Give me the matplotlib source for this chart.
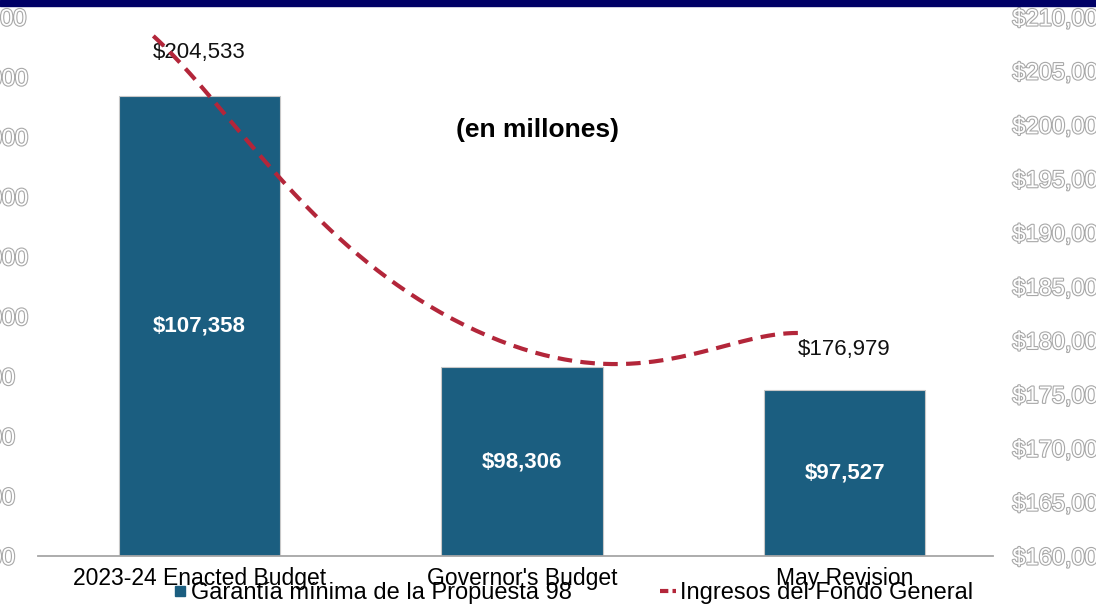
import numpy as np
import matplotlib.pyplot as plt
import matplotlib.patheffects as pe
from matplotlib.lines import Line2D
from matplotlib.patches import Rectangle

categories = ['2023-24 Enacted Budget', "Governor's Budget", 'May Revision']
prop98 = [107358, 98306, 97527]
general_fund = [204533, 177200, 176979]
gf_labels = ['$204,533', '', '$176,979']
left_ticks = np.arange(92000, 110001, 2000)
right_ticks = np.arange(160000, 210001, 5000)

BAR = '#1b5e80'
LINE = '#b3263a'
plt.rcParams['font.family'] = ['Liberation Sans', 'DejaVu Sans']

W, H = 1096, 607
fig = plt.figure(figsize=(W / 100, H / 100), dpi=100)
rect = [38 / W, 51 / H, 955 / W, 539 / H]

# bars on the left axis
ax = fig.add_axes(rect)
x = np.arange(len(categories))
ax.bar(x, prop98, width=0.5, color=BAR, edgecolor='#c8c8c8', linewidth=0.8, zorder=2)
ax.set_xlim(-0.5, 2.46)
ax.set_ylim(left_ticks[0], left_ticks[-1])
ax.set_xticks(x, categories, fontsize=16.5)
ax.set_yticks(left_ticks, ['${:,.0f}'.format(v) for v in left_ticks], fontsize=17)
ax.tick_params(axis='x', length=0, pad=8)
ax.tick_params(axis='y', length=0, pad=78)
for lbl in ax.get_yticklabels():
    lbl.set_ha('left')
    lbl.set_color('white')
    lbl.set_path_effects([pe.withStroke(linewidth=1.6, foreground='#a8a8a8')])
for s in ['top', 'left', 'right']:
    ax.spines[s].set_visible(False)
ax.spines['bottom'].set_color('#a6a6a6')
ax.spines['bottom'].set_linewidth(1.3)

for i, v in enumerate(prop98):
    ax.text(i, (left_ticks[0] + v) / 2, '${:,.0f}'.format(v), color='white',
            fontsize=16, fontweight='bold', ha='center', va='center', zorder=3)

# right axis for the general fund line
ax2 = ax.twinx()
ax2.set_ylim(right_ticks[0], right_ticks[-1])
ax2.set_yticks(right_ticks, ['${:,.0f}'.format(v) for v in right_ticks], fontsize=17)
ax2.tick_params(axis='y', length=0, pad=14)
for lbl in ax2.get_yticklabels():
    lbl.set_ha('left')
    lbl.set_color('white')
    lbl.set_path_effects([pe.withStroke(linewidth=1.6, foreground='#a8a8a8')])
for s in ax2.spines.values():
    s.set_visible(False)

for i, (v, t) in enumerate(zip(general_fund, gf_labels)):
    if t:
        ax2.annotate(t, (i, v), xytext=(0, 17), textcoords='offset points',
                     ha='center', va='center', fontsize=16, color='#111111')


def smooth(a, xs, ys, k=0.25, n=80):
    pts = a.transData.transform(np.column_stack([xs, ys]))
    out = []
    for i in range(len(pts) - 1):
        p0 = pts[max(i - 1, 0)]
        p1 = pts[i]
        p2 = pts[i + 1]
        p3 = pts[min(i + 2, len(pts) - 1)]
        c1 = p1 + (p2 - p0) * k
        c2 = p2 - (p3 - p1) * k
        t = np.linspace(0, 1, n)[:, None]
        out.append((1 - t) ** 3 * p1 + 3 * (1 - t) ** 2 * t * c1
                   + 3 * (1 - t) * t ** 2 * c2 + t ** 3 * p2)
    return a.transData.inverted().transform(np.vstack(out))


# the line sits a bit off the bars in the original, so it gets its own layer
ax3 = fig.add_axes([rect[0] - 46 / W, rect[1] + 40 / H, rect[2], rect[3]])
ax3.set_xlim(ax.get_xlim())
ax3.set_ylim(ax2.get_ylim())
ax3.axis('off')
curve = smooth(ax3, x, general_fund)
ax3.plot(curve[:, 0], curve[:, 1], color=LINE, lw=3, dashes=(3.5, 2))

fig.add_artist(Rectangle((0, 1 - 6 / H), 1, 6 / H, transform=fig.transFigure,
                         color='#000066'))
fig.text(538 / W, 1 - 130 / H, '(en millones)', ha='center', va='center',
         fontsize=19, fontweight='bold')

handles = [Line2D([], [], marker='s', ls='none', color=BAR, markersize=7),
           Line2D([], [], color=LINE, lw=3, dashes=(2, 1))]
fig.legend(handles, ['Garantía mínima de la Propuesta 98', 'Ingresos del Fondo General'],
           loc='center', bbox_to_anchor=(572 / W, 1 - 593 / H), ncol=2, frameon=False,
           fontsize=17, handlelength=0.7, handletextpad=0.15, columnspacing=3.7,
           borderpad=0)

fig.savefig('out.png', dpi=100)
